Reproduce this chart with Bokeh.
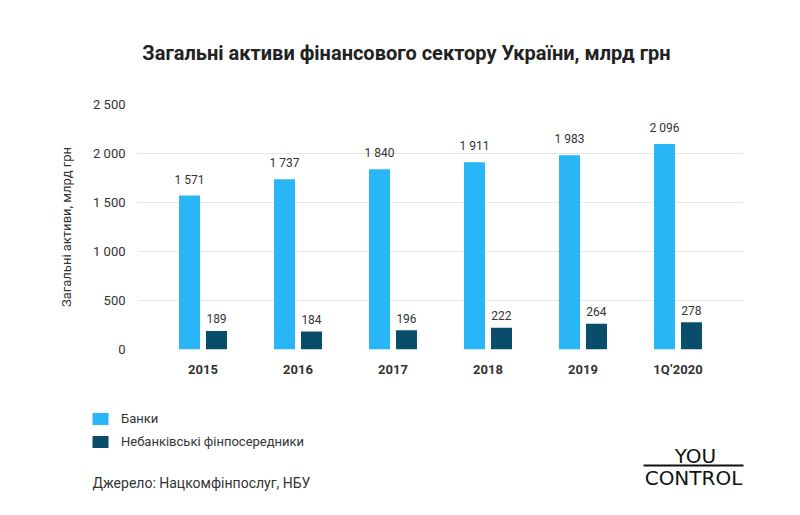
from bokeh.plotting import figure
from bokeh.layouts import column
from bokeh.models import (FactorRange, Range1d, Label, Legend, LegendItem,
                          ColumnDataSource, FixedTicker)
from bokeh.transform import dodge
from bokeh.core.properties import value
from bokeh.embed import file_html
from bokeh.resources import INLINE

# ---- data ----
categories = ["2015", "2016", "2017", "2018", "2019", "1Q\u20192020"]
banks = [1571, 1737, 1840, 1911, 1983, 2096]
nonbanks = [189, 184, 196, 222, 264, 278]
series_names = ["Банки", "Небанківські фінпосередники"]
y_ticks = [0, 500, 1000, 1500, 2000, 2500]
y_tick_labels = ["0", "500", "1 000", "1 500", "2 000", "2 500"]
title_text = "Загальні активи фінансового сектору України, млрд грн"
y_axis_title = "Загальні активи, млрд грн"
source_text = "Джерело: Нацкомфінпослуг, НБУ"
logo_top = "YOU"
logo_bottom = "CONTROL"


def fmt(v):
    return f"{v:,}".replace(",", " ")


src = ColumnDataSource(dict(
    cat=categories,
    banks=banks,
    nonbanks=nonbanks,
    banks_lbl=[fmt(v) for v in banks],
    nonbanks_lbl=[fmt(v) for v in nonbanks],
))

FONT = "Roboto"
TXT = "#333333"
BLUE = "#29b6f6"
DARK = "#0a4d6b"
W = 800
HEAD_H, CHART_H, FOOT_H = 80, 310, 125


def blank(height):
    f = figure(width=W, height=height, x_range=Range1d(0, W),
               y_range=Range1d(height, 0), output_backend="svg",
               toolbar_location=None, min_border=0,
               min_border_left=0, min_border_right=0,
               min_border_top=0, min_border_bottom=0,
               x_axis_type=None, y_axis_type=None)
    f.frame_align = False
    f.grid.visible = False
    f.outline_line_color = None
    f.background_fill_color = "white"
    f.border_fill_color = "white"
    return f


# ---- header (title) ----
head = blank(HEAD_H)
head.add_layout(Label(x=406, y=52, text=title_text, text_align="center",
                      text_baseline="middle", text_font=FONT,
                      text_font_size="20px", text_font_style="bold",
                      text_color="#222222"))

# ---- chart ----
p = figure(x_range=FactorRange(factors=categories, range_padding=0.0632),
           y_range=Range1d(0, 2500), width=W, height=CHART_H,
           output_backend="svg", toolbar_location=None,
           min_border_left=137, min_border_right=57,
           min_border_top=24, min_border_bottom=41)
p.frame_align = False
p.outline_line_color = None
p.background_fill_color = "white"
p.border_fill_color = "white"

p.vbar(x=dodge("cat", -0.142, range=p.x_range), top="banks", width=0.221,
       source=src, fill_color=BLUE, line_color=None)
p.vbar(x=dodge("cat", 0.142, range=p.x_range), top="nonbanks", width=0.221,
       source=src, fill_color=DARK, line_color=None)

p.text(x=dodge("cat", -0.142, range=p.x_range), y="banks", text="banks_lbl",
       source=src, text_align="center", text_baseline="middle", y_offset=-16,
       text_font_size="12px", text_color=TXT, text_font=value(FONT))
p.text(x=dodge("cat", 0.142, range=p.x_range), y="nonbanks", text="nonbanks_lbl",
       source=src, text_align="center", text_baseline="middle", y_offset=-12,
       text_font_size="12px", text_color=TXT, text_font=value(FONT))

p.xgrid.grid_line_color = None
p.ygrid.grid_line_color = "#e6e6e6"
p.ygrid.grid_line_width = 1

p.yaxis.ticker = FixedTicker(ticks=y_ticks)
p.yaxis.major_label_overrides = {t: l for t, l in zip(y_ticks, y_tick_labels)}
p.yaxis.axis_line_color = None
p.yaxis.major_tick_line_color = None
p.yaxis.minor_tick_line_color = None
p.yaxis.major_tick_in = 0
p.yaxis.major_tick_out = 0
p.yaxis.major_label_standoff = 12
p.yaxis.major_label_text_font = FONT
p.yaxis.major_label_text_font_size = "13px"
p.yaxis.major_label_text_color = TXT
p.yaxis.axis_label = y_axis_title
p.yaxis.axis_label_text_font = FONT
p.yaxis.axis_label_text_font_size = "13px"
p.yaxis.axis_label_text_font_style = "normal"
p.yaxis.axis_label_text_color = TXT
p.yaxis.axis_label_standoff = 16

p.xaxis.axis_line_color = None
p.xaxis.major_tick_line_color = None
p.xaxis.minor_tick_line_color = None
p.xaxis.major_tick_in = 0
p.xaxis.major_tick_out = 0
p.xaxis.major_label_standoff = 12
p.xaxis.major_label_text_font = FONT
p.xaxis.major_label_text_font_size = "13px"
p.xaxis.major_label_text_font_style = "bold"
p.xaxis.major_label_text_color = TXT

# ---- footer (legend, source, logo) ----
foot = blank(FOOT_H)
lg1 = foot.vbar(x=[-1000], top=[0], width=1, fill_color=BLUE, line_color=None)
lg2 = foot.vbar(x=[-1000], top=[0], width=1, fill_color=DARK, line_color=None)
legend = Legend(items=[LegendItem(label=series_names[0], renderers=[lg1]),
                       LegendItem(label=series_names[1], renderers=[lg2])],
                location=(90, 66), orientation="vertical",
                padding=0, margin=0, spacing=8,
                glyph_width=20, glyph_height=15, label_height=15,
                label_standoff=11,
                label_text_font=FONT, label_text_font_size="13px",
                label_text_color=TXT, label_text_baseline="middle",
                border_line_color=None, background_fill_alpha=0)
foot.add_layout(legend, "center")

foot.add_layout(Label(x=92, y=92, text=source_text, text_align="left",
                      text_baseline="middle", text_font=FONT,
                      text_font_size="14px", text_color=TXT))
foot.add_layout(Label(x=695, y=65, text=logo_top, text_align="center",
                      text_baseline="middle", text_font="DejaVu Sans",
                      text_font_size="20px", text_color="#111111"))
foot.add_layout(Label(x=693, y=87, text=logo_bottom, text_align="center",
                      text_baseline="middle", text_font="DejaVu Sans",
                      text_font_size="20px", text_color="#111111"))
foot.segment(x0=[643], y0=[75], x1=[743], y1=[75], line_color="#111111",
             line_width=2)

layout = column(head, p, foot, spacing=0)
open("out.html", "w").write(file_html(layout, INLINE))
